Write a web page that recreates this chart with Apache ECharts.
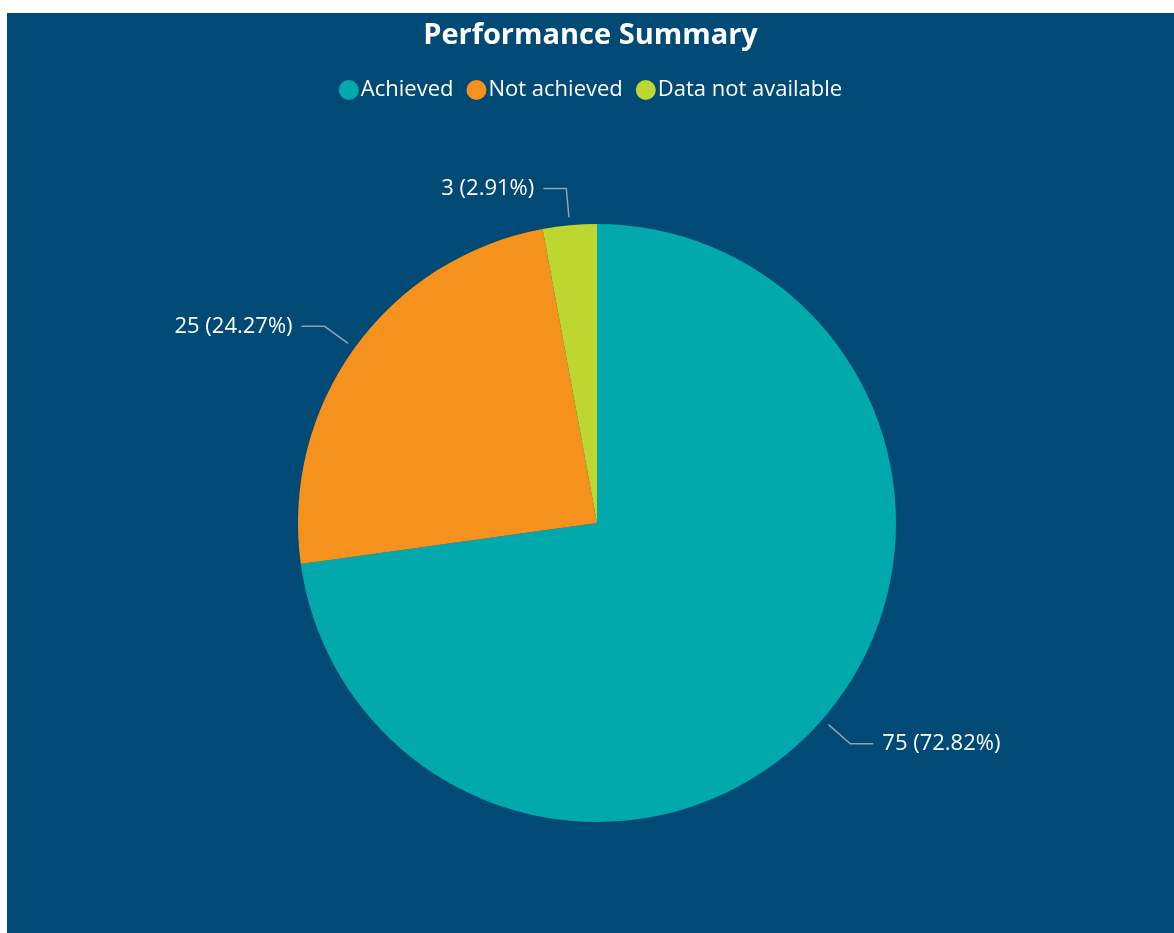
<!DOCTYPE html>
<html>
<head>
<meta charset="utf-8">
<script src="https://cdn.jsdelivr.net/npm/echarts@6/dist/echarts.min.js"></script>
<style>
html,body{margin:0;padding:0;background:#ffffff;width:1174px;height:933px;overflow:hidden;}
#chart{position:absolute;left:7px;top:13px;width:1167px;height:920px;}
</style>
</head>
<body>
<div id="chart"></div>
<script>
const categories = ["Achieved", "Not achieved", "Data not available"];
const values = [75, 25, 3];
const colors = ["#01a9ac", "#f5921e", "#bdd630"];

const chart = echarts.init(document.getElementById('chart'));
const total = values.reduce((a, b) => a + b, 0);
const pieData = categories.map((c, i) => ({ name: c, value: values[i] }));
chart.setOption({
  backgroundColor: '#004a75',
  animation: false,
  title: {
    text: 'Performance Summary',
    left: 'center',
    top: 3,
    textStyle: { color: '#ffffff', fontSize: 29, fontWeight: 'bold', fontFamily: 'Open Sans' }
  },
  legend: {
    top: 61,
    left: 'center',
    icon: 'circle',
    itemWidth: 20,
    itemHeight: 20,
    itemGap: 13,
    textStyle: { color: '#ffffff', fontSize: 22, fontFamily: 'Open Sans', padding: [0, 0, 0, -3] },
    data: categories
  },
  color: colors,
  series: [{
    type: 'pie',
    center: [590, 510],
    radius: 299,
    startAngle: 90,
    clockwise: true,
    itemStyle: { borderWidth: 0 },
    label: { show: false },
    labelLine: { show: false },
    emphasis: { disabled: true },
    data: pieData
  }, {
    type: 'pie',
    center: [590, 510],
    radius: 307,
    startAngle: 90,
    clockwise: true,
    silent: true,
    itemStyle: { color: 'rgba(0,0,0,0)', borderWidth: 0 },
    label: {
      show: true,
      color: '#ffffff',
      fontSize: 22,
      fontFamily: 'Open Sans',
      distanceToLabelLine: 9,
      formatter: p => p.value + ' (' + (p.value / total * 100).toFixed(2) + '%)'
    },
    labelLine: {
      show: true,
      length: 29,
      length2: 23,
      lineStyle: { color: '#8ea3b6', width: 1.5 }
    },
    data: pieData
  }]
});
</script>
</body>
</html>
